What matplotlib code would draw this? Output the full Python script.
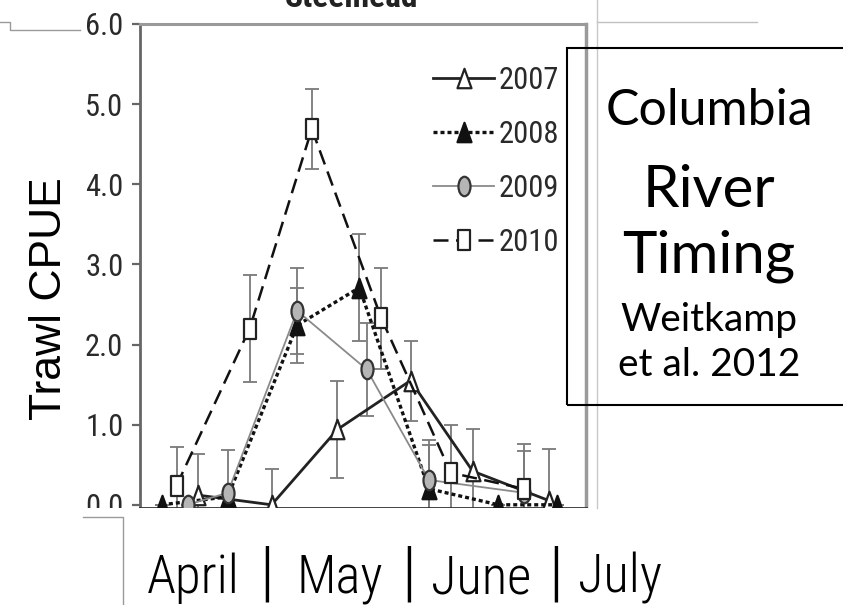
import numpy as np
import matplotlib
matplotlib.use("Agg")
import matplotlib.pyplot as plt
from matplotlib import font_manager
from matplotlib.path import Path
from matplotlib.patches import Rectangle
from matplotlib.lines import Line2D

# === Donnees (jours depuis le 1er avril, CPUE chalut, ecart) ===
years = ["2007", "2008", "2009", "2010"]

days_2007 = [16, 36, 54, 74, 91, 112]
cpue_2007 = [0.12, 0.0, 0.94, 1.55, 0.42, 0.05]
sd_2007 = [0.51, 0.45, 0.60, 0.50, 0.53, 0.65]

days_2008 = [6, 24, 43, 60, 79, 98, 114]
cpue_2008 = [0.0, 0.10, 2.24, 2.71, 0.20, 0.0, 0.0]
sd_2008 = [0.0, 0.0, 0.47, 0.67, 0.55, 0.0, 0.0]

days_2009 = [13, 24, 43, 62, 79, 105]
cpue_2009 = [0.0, 0.15, 2.42, 1.69, 0.31, 0.15]
sd_2009 = [0.0, 0.53, 0.54, 0.58, 0.50, 0.52]

days_2010 = [10, 30, 47, 66, 85, 105]
cpue_2010 = [0.24, 2.20, 4.69, 2.33, 0.40, 0.20]
sd_2010 = [0.48, 0.67, 0.50, 0.63, 0.59, 0.56]

y_ticks = [0.0, 1.0, 2.0, 3.0, 4.0, 5.0, 6.0]
months = ["April", "May", "June", "July"]
month_x = [193, 340, 481, 620]     # pixels
sep_x = [267, 409, 556]            # pixels

# === Police etroite : on prend ce qui est installe ===
names = {f.name for f in font_manager.fontManager.ttflist}
dv_cond = any(f.name == "DejaVu Sans" and str(f.stretch) in ("condensed", "semi-condensed")
              for f in font_manager.fontManager.ttflist)
NARROW_STRETCH = "normal"
if "Liberation Sans Narrow" in names:
    NARROW = ["Liberation Sans Narrow", "DejaVu Sans"]
elif "Roboto Condensed" in names:
    NARROW = ["Roboto Condensed", "DejaVu Sans"]
elif "DejaVu Sans Condensed" in names:
    NARROW = ["DejaVu Sans Condensed", "DejaVu Sans"]
elif dv_cond:
    NARROW = ["DejaVu Sans"]
    NARROW_STRETCH = "condensed"
else:
    NARROW = ["Liberation Sans", "DejaVu Sans"]

def narrow(size, **kw):
    return dict(family=NARROW, stretch=NARROW_STRETCH, size=size, **kw)

# === Marqueurs etires verticalement (image d'origine deformee) ===
def stretched(path, sx):
    return Path(path.vertices * np.array([sx, 1.0]), path.codes)

sq_marker = Path([(-0.33, -0.5), (0.33, -0.5), (0.33, 0.5), (-0.33, 0.5), (-0.33, -0.5)],
                 [Path.MOVETO, Path.LINETO, Path.LINETO, Path.LINETO, Path.CLOSEPOLY])
tri_marker = Path([(-0.36, -0.5), (0.36, -0.5), (0.0, 0.5), (-0.36, -0.5)],
                  [Path.MOVETO, Path.LINETO, Path.LINETO, Path.CLOSEPOLY])
circ_marker = stretched(Path.unit_circle(), 0.62)

fig = plt.figure(figsize=(8.43, 6.05), dpi=100)
W, H = 843, 605
ax = fig.add_axes([140 / W, 1 - 508 / H, 446 / W, 484 / H])

series = [
    (days_2007, cpue_2007, sd_2007, "2007", dict(color="#222222", lw=2.0, ls="-"),
     dict(marker=tri_marker, mfc="white", mec="#222222")),
    (days_2008, cpue_2008, sd_2008, "2008", dict(color="#111111", lw=2.4, ls=(0, (1.2, 0.9))),
     dict(marker=tri_marker, mfc="#111111", mec="#111111")),
    (days_2009, cpue_2009, sd_2009, "2009", dict(color="#8a8a8a", lw=1.3, ls="-"),
     dict(marker=circ_marker, mfc="#b5b5b5", mec="#333333")),
    (days_2010, cpue_2010, sd_2010, "2010", dict(color="#111111", lw=1.8, ls=(0, (6, 3))),
     dict(marker=sq_marker, mfc="white", mec="#222222")),
]

for x, y, sd, lab, lstyle, mstyle in series:
    ax.errorbar(x, y, yerr=sd, fmt="none", ecolor="#7a7a7a", elinewidth=1.3,
                capsize=5, capthick=1.3, zorder=2)
for x, y, sd, lab, lstyle, mstyle in series:
    ax.plot(x, y, label=lab, markersize=14, markeredgewidth=1.6, zorder=3,
            **lstyle, **mstyle)

ax.set_xlim(0, 122)
ax.set_ylim(-0.04, 6.0)
ax.set_xticks([])
ax.set_yticks(y_ticks)
ax.set_yticklabels([f"{v:.1f}" for v in y_ticks], fontproperties=font_manager.FontProperties(**narrow(22)),
                   color="#2a2a2a")
ax.tick_params(axis="y", length=6, width=1.6, color="#666666", pad=6)

ax.spines["left"].set_color("#666666")
ax.spines["left"].set_linewidth(2.0)
ax.spines["top"].set_color("#9a9a9a")
ax.spines["top"].set_linewidth(2.2)
ax.spines["right"].set_color("#9a9a9a")
ax.spines["right"].set_linewidth(2.5)
ax.spines["bottom"].set_color("#333333")
ax.spines["bottom"].set_linewidth(2.0)

leg = ax.legend(loc="upper left", bbox_to_anchor=((433 - 140) / 446, (508 - 66) / 484),
                frameon=False, prop=font_manager.FontProperties(**narrow(22)),
                handlelength=2.0, handletextpad=0.15, labelspacing=0.82,
                borderpad=0, borderaxespad=0)
for t in leg.get_texts():
    t.set_color("#2a2a2a")

# === Cache blanc : l'image du graphique est coupee en bas ===
fig.patches.append(Rectangle((0, 0), 0.72, 97 / H, transform=fig.transFigure,
                             facecolor="white", edgecolor="none", zorder=1))

# titre coupe en haut
fig.text(352 / W, 1 - 7 / H, "Steelhead", ha="center", va="baseline",
         fontweight="bold", color="#222222", **narrow(24))

# === Texte de la diapositive ===
fig.text(50 / W, 1 - 299 / H, "Trawl CPUE", rotation=90, ha="center", va="center",
         family=["Liberation Sans", "DejaVu Sans"], fontsize=32, color="black")

for word, px in zip(months, month_x):
    fig.text(px / W, 1 - 593 / H, word, ha="center", va="baseline",
             color="black", **narrow(38, weight="light"))
for px in sep_x:
    fig.text(px / W, 1 - 576 / H, "|", ha="center", va="center",
             color="black", **narrow(48, weight="light"))

fig.patches.append(Rectangle((567 / W, 1 - 405 / H), 0.4, 357 / H, transform=fig.transFigure,
                             facecolor="none", edgecolor="black", lw=1.5, zorder=4))
box_lines = [("Columbia", 111, 36), ("River", 190, 42), ("Timing", 256, 42),
             ("Weitkamp", 320, 28), ("et al. 2012", 365, 28)]
for txt, py, fs in box_lines:
    fig.text(709 / W, 1 - py / H, txt, ha="center", va="center",
             family=["Lato", "DejaVu Sans"], fontsize=fs, color="black")

# === Restes de la diapositive (traits gris) ===
def fig_line(xs, ys, color="#9a9a9a", lw=1.0):
    fig.lines.append(Line2D([v / W for v in xs], [1 - v / H for v in ys],
                            transform=fig.transFigure, color=color, lw=lw, zorder=2))

fig_line([0, 10, 10, 80], [22, 22, 30, 30])
fig_line([597, 757], [22, 22], color="#c0c0c0")
fig_line([597, 597], [0, 508], color="#c8c8c8")
fig_line([83, 123, 123], [517, 517, 605], color="#9a9a9a")

fig.savefig("out.png", dpi=100)
